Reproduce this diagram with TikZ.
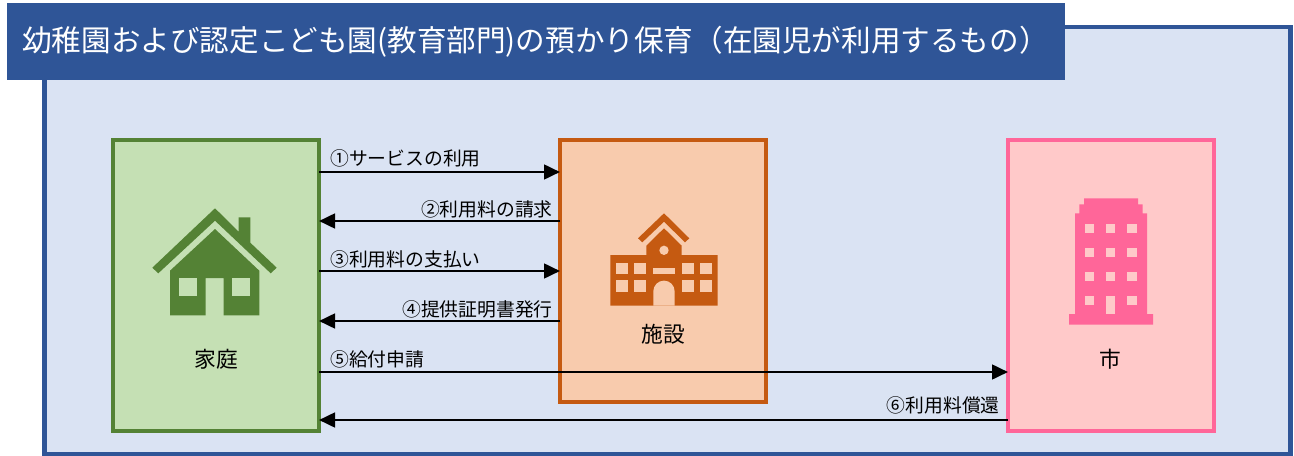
\documentclass[tikz,border=0pt]{standalone}
\usepackage{fontspec}
\usepackage{xcolor}
\usetikzlibrary{arrows.meta}
\setmainfont{Noto Sans CJK JP}
\definecolor{paneblue}{HTML}{DAE3F3}
\definecolor{frameblue}{HTML}{2F5597}
\definecolor{homefill}{HTML}{C5E0B4}
\definecolor{homeline}{HTML}{548235}
\definecolor{facilityfill}{HTML}{F8CBAD}
\definecolor{facilityline}{HTML}{C55A11}
\definecolor{cityfill}{HTML}{FFC9C9}
\definecolor{cityline}{HTML}{FF6699}

\begin{document}
\begin{tikzpicture}[x=0.75pt,y=-0.75pt,>={Triangle[length=12pt,width=11pt]},
    pane/.style={draw=frameblue,fill=paneblue,line width=3.4pt,minimum width=1246*0.75pt,minimum height=427*0.75pt,outer sep=0pt},
    titlebar/.style={fill=frameblue,text=white,font=\fontsize{22.2pt}{26pt}\selectfont,minimum height=57.75pt,text width=771pt,inner xsep=11.25pt,inner ysep=0pt,anchor=west,align=left},
    party/.style={line width=3pt,minimum width=206*0.75pt,outer sep=0pt},
    partyname/.style={font=\fontsize{16.3pt}{18pt}\selectfont,text=black,inner sep=0pt},
    flow/.style={->,line width=2pt},
    flowtext/.style={font=\fontsize{14.1pt}{16pt}\selectfont,inner sep=0pt}]

    \useasboundingbox (0,0) rectangle (1294,456);

    \node[pane] (frame) at (667.5,240.5) {};
    \node[titlebar] (title) at (7,41.5) {\mbox{幼稚園および認定こども園(教育部門)の預かり保育（在園児が利用するもの）}};

    \node[party,draw=homeline,fill=homefill,minimum height=291*0.75pt] (home) at (216,285.5) {};
    \node[party,draw=facilityline,fill=facilityfill,minimum height=262*0.75pt] (facility) at (663,271) {};
    \node[party,draw=cityline,fill=cityfill,minimum height=291*0.75pt] (city) at (1111,285.5) {};

    \node[partyname] (homename) at (216,359) {家庭};
    \node[partyname] (facilityname) at (663,334) {施設};
    \node[partyname] (cityname) at (1110,359) {市};

    % house icon
    \fill[homeline] (215,208.3) -- (238.7,231.7) -- (238.7,217.3) -- (250.3,217.3) -- (250.3,242.7) -- (276.7,267.7) -- (270.7,273.3) -- (215,220.7) -- (158.3,273.3) -- (152.3,267.7) -- cycle;
    \fill[homeline] (215,229) -- (259.3,270.7) -- (259.3,315.3) -- (223.7,315.3) -- (223.7,278) -- (205.7,278) -- (205.7,315.3) -- (170,315.3) -- (170,270.7) -- cycle;
    \fill[homefill] (178.7,278) rectangle (197,296);
    \fill[homefill] (232.3,278) rectangle (250.3,296);

    % school icon
    \fill[facilityline] (664,213.3) -- (689.3,238.3) -- (685,242.3) -- (664,221.7) -- (642.3,242.3) -- (638,238.3) -- cycle;
    \fill[facilityline] (610.3,255) -- (646.3,255) -- (646.3,245.7) -- (664,228.3) -- (681.7,245.7) -- (681.7,255) -- (717.7,255) -- (717.7,305.7) -- (610.3,305.7) -- cycle;
    \fill[facilityfill] (664,250.3) circle (3.5pt);
    \fill[facilityfill] (616,262.7) rectangle (628.3,274.3);
    \fill[facilityfill] (634,262.7) rectangle (646,274.3);
    \fill[facilityfill] (681.7,262.7) rectangle (694,274.3);
    \fill[facilityfill] (699.7,262.7) rectangle (712,274.3);
    \fill[facilityfill] (616,280.3) rectangle (628.3,292.3);
    \fill[facilityfill] (634,280.3) rectangle (646,292.3);
    \fill[facilityfill] (681.7,280.3) rectangle (694,292.3);
    \fill[facilityfill] (699.7,280.3) rectangle (712,292.3);
    \fill[facilityfill] (653.3,268.3) rectangle (674.7,274.3);
    \fill[facilityfill] (653.3,305.7) -- (653.3,291.3) arc[start angle=180,end angle=0,radius=8pt] -- (674.7,305.7) -- cycle;

    % city hall icon
    \fill[cityline] (1084,198.3) -- (1138,198.3) -- (1138,204.3) -- (1142.7,204.3) -- (1142.7,213.3) -- (1147,213.3) -- (1147,314) -- (1153,314) -- (1153,324.7) -- (1069,324.7) -- (1069,314) -- (1075,314) -- (1075,213.3) -- (1079.3,213.3) -- (1079.3,204.3) -- (1084,204.3) -- cycle;
    \fill[cityfill] (1085.3,223.7) rectangle (1094.3,233);
    \fill[cityfill] (1106.3,223.7) rectangle (1115.3,233);
    \fill[cityfill] (1127.3,223.7) rectangle (1136.7,233);
    \fill[cityfill] (1085.3,248) rectangle (1094.3,257);
    \fill[cityfill] (1106.3,248) rectangle (1115.3,257);
    \fill[cityfill] (1127.3,248) rectangle (1136.7,257);
    \fill[cityfill] (1085.3,272) rectangle (1094.3,281);
    \fill[cityfill] (1106.3,272) rectangle (1115.3,281);
    \fill[cityfill] (1127.3,272) rectangle (1136.7,281);
    \fill[cityfill] (1085.3,296.3) rectangle (1094.3,305);
    \fill[cityfill] (1106.3,296.3) rectangle (1115.3,314);
    \fill[cityfill] (1127.3,296.3) rectangle (1136.7,305);

    \coordinate (row1) at (0,172);
    \coordinate (row2) at (0,221);
    \coordinate (row3) at (0,271);
    \coordinate (row4) at (0,321);
    \coordinate (row5) at (0,372);
    \coordinate (row6) at (0,420);

    \draw[flow] (home.east |- row1) to (facility.west |- row1);
    \draw[flow] (facility.west |- row2) to (home.east |- row2);
    \draw[flow] (home.east |- row3) to (facility.west |- row3);
    \draw[flow] (facility.west |- row4) to (home.east |- row4);
    \draw[flow] (home.east |- row5) to (city.west |- row5);
    \draw[flow] (city.west |- row6) to (home.east |- row6);

    \node[flowtext,anchor=west] (label1) at (330,158) {①サービスの利用};
    \node[flowtext,anchor=east] (label2) at (553,209) {②利用料の請求};
    \node[flowtext,anchor=west] (label3) at (330,259) {③利用料の支払い};
    \node[flowtext,anchor=east] (label4) at (553,309) {④提供証明書発行};
    \node[flowtext,anchor=west] (label5) at (330,359) {⑤給付申請};
    \node[flowtext,anchor=east] (label6) at (1000,405) {⑥利用料償還};
\end{tikzpicture}
\end{document}
